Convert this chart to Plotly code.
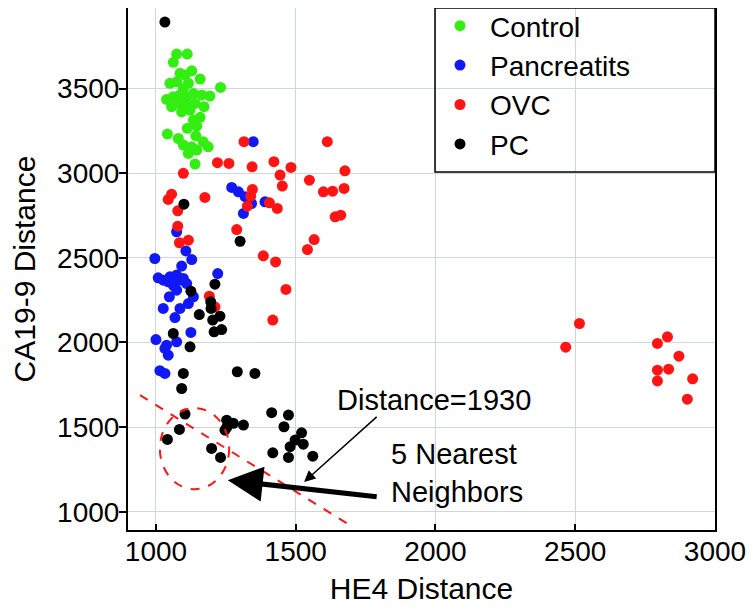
import plotly.graph_objects as go

# ---------------- data ----------------
control_x = [1074, 1112, 1062, 1128, 1086, 1104, 1158, 1050, 1074, 1116, 1098, 1231,
             1038, 1062, 1086, 1110, 1134, 1164, 1193, 1056, 1086, 1110, 1140, 1172,
             1092, 1122, 1158, 1134, 1146, 1112, 1041, 1143, 1080, 1169, 1098, 1128,
             1187, 1116, 1146, 1140]
control_y = [3704, 3704, 3655, 3605, 3590, 3580, 3556, 3531, 3540, 3531, 3501, 3507,
             3436, 3452, 3462, 3452, 3471, 3462, 3456, 3393, 3412, 3402, 3412, 3393,
             3363, 3373, 3330, 3314, 3278, 3265, 3231, 3221, 3205, 3186, 3166, 3156,
             3156, 3117, 3137, 3054]

panc_x = [1348, 1271, 1295, 1319, 1342, 1313, 1390, 1074, 1107, 1128, 996, 1092,
          1221, 1008, 1050, 1074, 1044, 1086, 1110, 1074, 1048, 1134, 1116, 1086,
          1026, 1068, 1125, 1000, 1038, 1074, 1032, 1044, 1014, 1032, 1026, 1098, 1062]
panc_y = [3186, 2916, 2890, 2861, 2821, 2762, 2831, 2654, 2541, 2490, 2496, 2451,
          2407, 2382, 2388, 2398, 2358, 2368, 2348, 2309, 2270, 2270, 2230, 2201,
          2201, 2147, 2059, 2017, 1984, 2004, 1965, 1925, 1833, 1817, 2368, 2378, 2338]

ovc_x = [1315, 1613, 1220, 1261, 1344, 1422, 1483, 1098, 1444, 1676, 1549, 1452,
         1599, 1632, 1673, 1056, 1044, 1175, 1345, 1339, 1327, 1406, 1434, 1641,
         1661, 1078, 1078, 1084, 1116, 1289, 1566, 1542, 1384, 1428, 1465, 1191,
         1211, 1418, 2515, 2466, 2794, 2830, 2871, 2794, 2834, 2794, 2920, 2901]
ovc_y = [3186, 3186, 3062, 3058, 3038, 3068, 3034, 2999, 2989, 3014, 2959, 2924,
         2890, 2894, 2910, 2876, 2845, 2857, 2904, 2864, 2805, 2825, 2792, 2742,
         2752, 2778, 2687, 2589, 2604, 2667, 2608, 2549, 2512, 2476, 2313, 2273,
         2210, 2132, 2112, 1972, 1994, 2033, 1919, 1836, 1842, 1773, 1785, 1665]

pc_x = [1032, 1100, 1301, 1211, 1125, 1196, 1197, 1155, 1229, 1203, 1235, 1208,
        1062, 1122, 1098, 1092, 1291, 1354, 1104, 1084, 1041, 1253, 1253, 1277,
        1313, 1247, 1199, 1231, 1414, 1474, 1458, 1521, 1498, 1527, 1480, 1474,
        1418, 1561]
pc_y = [3893, 2817, 2598, 2344, 2303, 2240, 2201, 2165, 2155, 2132, 2076, 2063,
        2053, 1974, 1817, 1728, 1827, 1817, 1577, 1486, 1427, 1541, 1498, 1522,
        1512, 1482, 1374, 1321, 1585, 1571, 1502, 1466, 1423, 1399, 1384, 1321,
        1348, 1328]

series_names = ["Control", "Pancreatits", "OVC", "PC"]
series_colors = ["#33ee11", "#1018f5", "#ff1414", "#000000"]

x_ticks = [1000, 1500, 2000, 2500, 3000]
y_ticks = [1000, 1500, 2000, 2500, 3000, 3500]

# annotation geometry in data units
boundary_line = [(943, 1689), (1704, 910)]
neighbor_ellipse = [(1014, 1133), (1262, 1612)]

FONT = "Liberation Sans, Arial, sans-serif"

# The page body has an 8px margin, so the figure is laid out with that offset in mind.
PLOT_H = 522.0

fig = go.Figure()
for name, xs, ys, col in zip(series_names, [control_x, panc_x, ovc_x, pc_x],
                             [control_y, panc_y, ovc_y, pc_y], series_colors):
    fig.add_trace(go.Scatter(x=xs, y=ys, mode="markers", name=name, legendgroup=name,
                             marker=dict(color=col, size=11, line=dict(width=0))))

# red dashed decision line
fig.add_shape(type="line", xref="x", yref="y",
              x0=boundary_line[0][0], y0=boundary_line[0][1],
              x1=boundary_line[1][0], y1=boundary_line[1][1],
              line=dict(color="#ff1414", width=2, dash="dash"))
# red dashed ellipse around nearest neighbors
fig.add_shape(type="circle", xref="x", yref="y",
              x0=neighbor_ellipse[0][0], y0=neighbor_ellipse[0][1],
              x1=neighbor_ellipse[1][0], y1=neighbor_ellipse[1][1],
              line=dict(color="#ff1414", width=2, dash="dash"))
# legend frame
fig.add_shape(type="rect", xref="paper", yref="paper",
              x0=(435 - 128) / 587, x1=1.0, y0=1 - (172 - 8) / PLOT_H, y1=1.0,
              line=dict(color="black", width=1.5), fillcolor="rgba(0,0,0,0)")

# thick arrow
fig.add_annotation(x=1257, y=1186, ax=1795, ay=1088, xref="x", yref="y",
                   axref="x", ayref="y", text="", showarrow=True,
                   arrowhead=2, arrowsize=1.4, arrowwidth=5, arrowcolor="black", standoff=0)
# thin arrow
fig.add_annotation(x=1530, y=1176, ax=1795, ay=1568, xref="x", yref="y",
                   axref="x", ayref="y", text="", showarrow=True,
                   arrowhead=2, arrowsize=1.5, arrowwidth=1.5, arrowcolor="black", standoff=0)
fig.add_annotation(x=1996, y=1659, xref="x", yref="y", text="Distance=1930",
                   showarrow=False, font=dict(family=FONT, size=29, color="black"))
fig.add_annotation(x=1832, y=1230, xref="x", yref="y", text="5 Nearest<br>Neighbors",
                   showarrow=False, xanchor="left", align="left",
                   font=dict(family=FONT, size=29, color="black"))

fig.update_layout(
    width=756, height=609,
    margin=dict(l=120, r=49, t=0, b=87, autoexpand=False),
    paper_bgcolor="white", plot_bgcolor="white",
    font=dict(family=FONT, color="black"),
    showlegend=True,
    legend=dict(x=(430 - 128) / 587, y=1.0 + 7 / PLOT_H, xanchor="left", yanchor="top",
                bgcolor="rgba(0,0,0,0)", borderwidth=0, itemwidth=50,
                tracegroupgap=0, font=dict(family=FONT, size=28, color="black")),
)
fig.update_xaxes(range=[900, 3000], tickvals=x_ticks, ticktext=[str(v) for v in x_ticks],
                 automargin=False,
                 showgrid=True, gridcolor="#cdd8d8", gridwidth=1, zeroline=False,
                 showline=True, linecolor="black", linewidth=2, mirror=True,
                 ticks="inside", ticklen=6, tickwidth=2, tickcolor="black",
                 ticklabelstandoff=-5,
                 tickfont=dict(family=FONT, size=28, color="black"),
                 title=dict(text="HE4 Distance", font=dict(family=FONT, size=30, color="black"),
                            standoff=12))
fig.update_yaxes(range=[892, 3976], tickvals=y_ticks, ticktext=[str(v) for v in y_ticks],
                 automargin=False,
                 showgrid=True, gridcolor="#cdd8d8", gridwidth=1, zeroline=False,
                 showline=True, linecolor="black", linewidth=2, mirror=True,
                 ticks="outside", ticklen=7, tickwidth=2, tickcolor="black",
                 ticklabelstandoff=-6,
                 tickfont=dict(family=FONT, size=28, color="black"),
                 title=dict(text="CA19-9 Distance", font=dict(family=FONT, size=30, color="black"),
                            standoff=16))

fig.write_html("out.html")
